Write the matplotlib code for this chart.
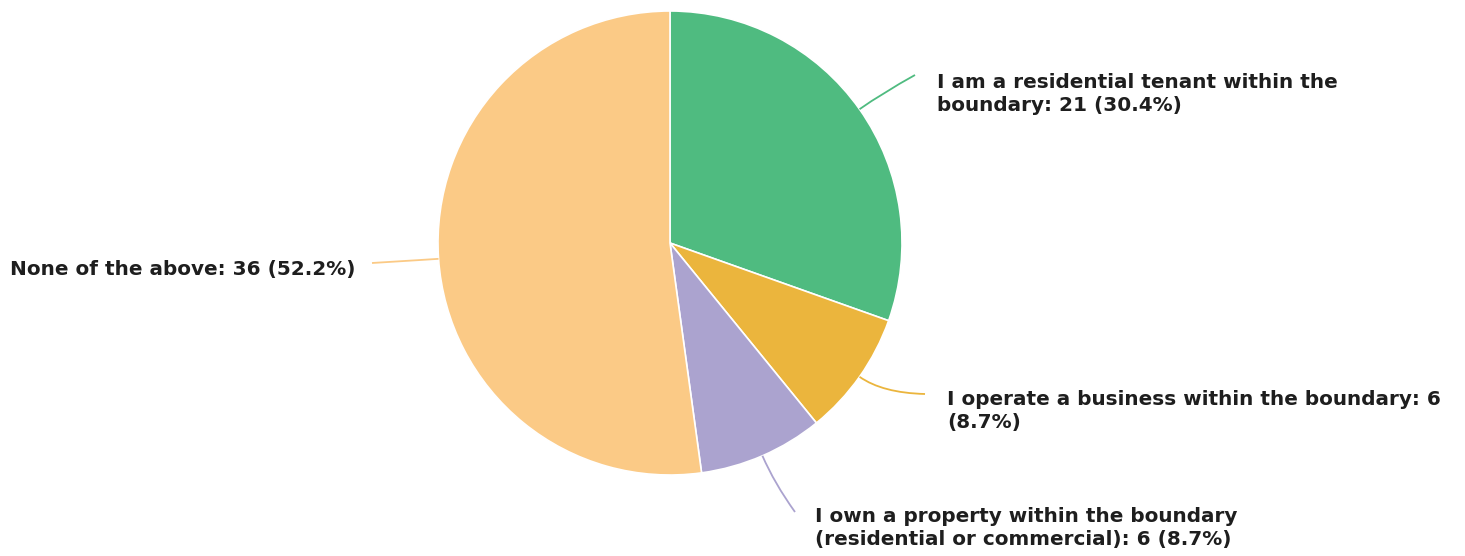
import numpy as np
import matplotlib
matplotlib.use("Agg")
import matplotlib.pyplot as plt
from matplotlib.path import Path
from matplotlib.patches import PathPatch

labels = [
    "I am a residential tenant within the\nboundary: 21 (30.4%)",
    "I operate a business within the boundary: 6\n(8.7%)",
    "I own a property within the boundary\n(residential or commercial): 6 (8.7%)",
    "None of the above: 36 (52.2%)",
]
counts = [21, 6, 6, 36]
colors = ["#4fbb80", "#ebb53d", "#aba3cf", "#fbca86"]

W, H = 1465, 556
fig = plt.figure(figsize=(W / 100, H / 100), dpi=100)
ax = fig.add_axes([0, 0, 1, 1])

cx, cy, r = 670, H - 243, 232
wedges, _ = ax.pie(counts, colors=colors, startangle=90, counterclock=False,
                   center=(cx, cy), radius=r, frame=True,
                   wedgeprops=dict(linewidth=1.2, edgecolor="white"))
ax.set_xlim(0, W)
ax.set_ylim(0, H)
ax.axis("off")

# label anchor positions (pixel coords from top) and leader end points
label_pos = [(937, 94, "left"), (947, 411, "left"), (815, 528, "left"), (355, 270, "right")]
line_end = [(915, 75), (925, 394), (795, 512), (372, 263)]
ctrl_dist = [28, 28, 30, 10]

for w, (lx, ly, ha), (ex, ey), cd, col, lab in zip(wedges, label_pos, line_end, ctrl_dist, colors, labels):
    ang = np.deg2rad((w.theta1 + w.theta2) / 2)
    sx, sy = cx + r * np.cos(ang), cy + r * np.sin(ang)
    c1x, c1y = cx + (r + cd) * np.cos(ang), cy + (r + cd) * np.sin(ang)
    path = Path([(sx, sy), (c1x, c1y), (ex, H - ey)], [Path.MOVETO, Path.CURVE3, Path.CURVE3])
    ax.add_patch(PathPatch(path, facecolor="none", edgecolor=col, lw=1.3))
    ax.text(lx, H - ly, lab, ha=ha, va="center",
            fontsize=14.4, fontweight="bold", color="#1e1e1e", family="DejaVu Sans",
            linespacing=1.3)

fig.savefig("out.png", dpi=100, facecolor="white")
